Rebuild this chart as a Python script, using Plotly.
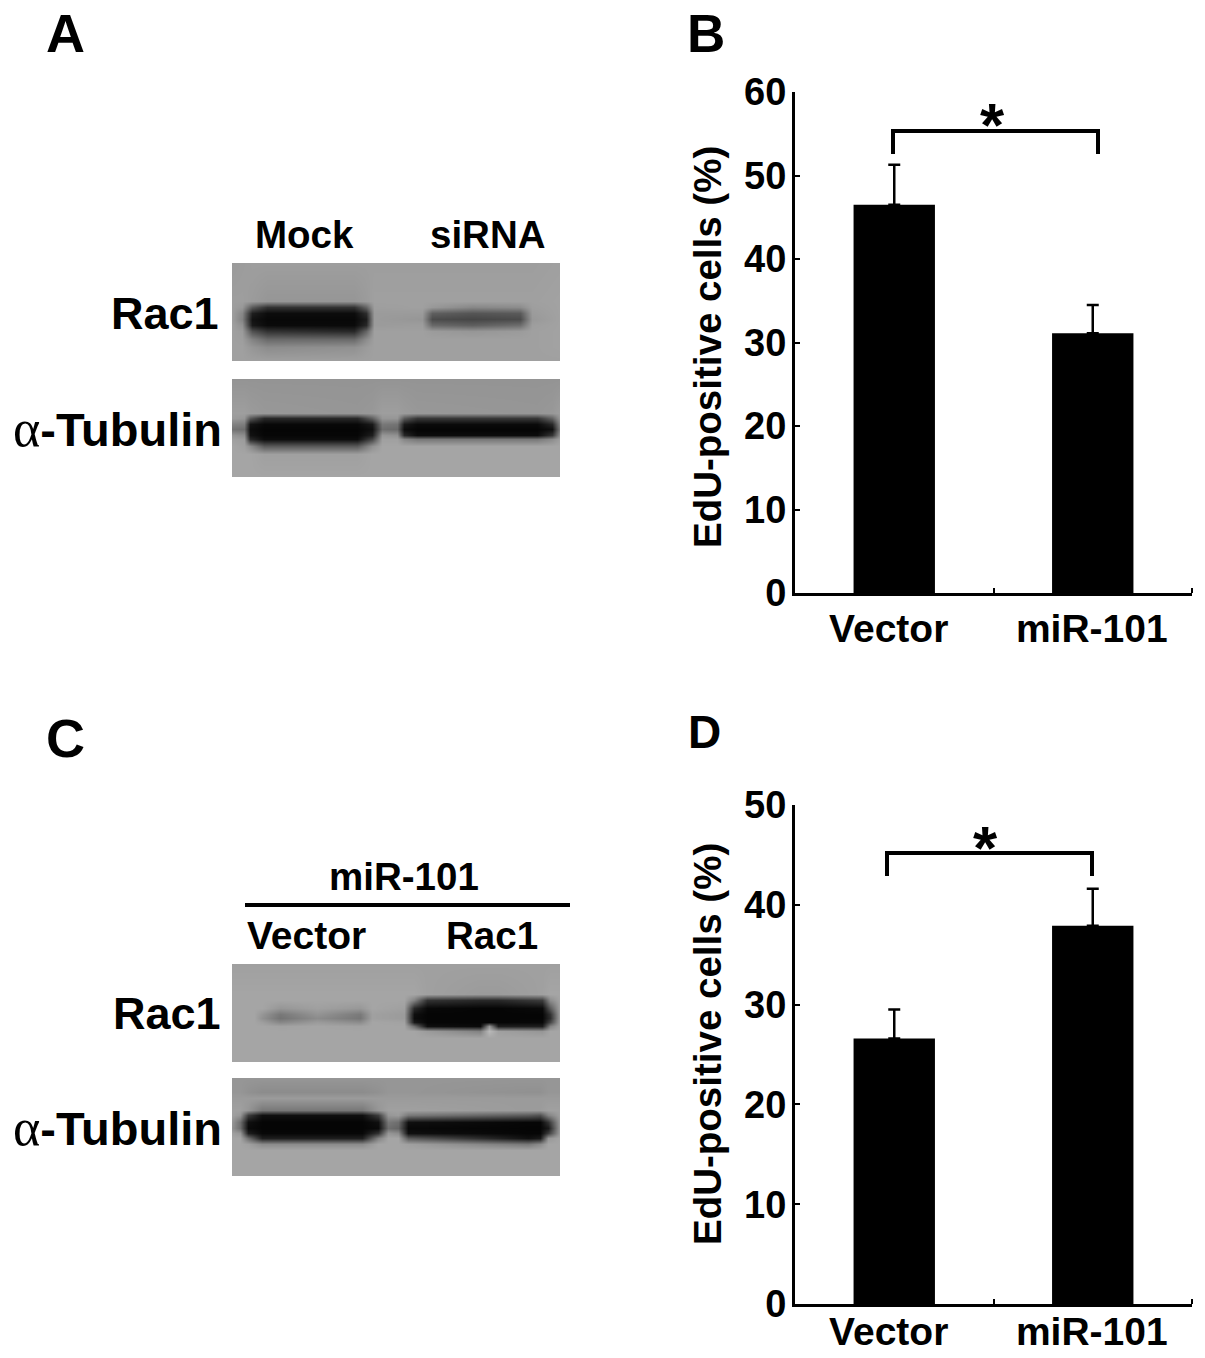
import plotly.graph_objects as go

W, H = 1205, 1358
FONT = "Liberation Sans"

# panels B and D
categories = ["Vector", "miR-101"]
bar_pos = [0, 1]
label_pos = [-0.028, 0.995]
boundaries = [0.5, 1.5]
b_values = [46.5, 31.1]
b_errors = [4.8, 3.4]
b_ticks = [0, 10, 20, 30, 40, 50, 60]
d_values = [26.6, 37.9]
d_errors = [2.9, 3.7]
d_ticks = [0, 10, 20, 30, 40, 50]
y_title = "EdU-positive cells (%)"

# western blots, grey level (0-255) read at a coarse grid of each panel
a1_x = [0, 10, 20, 35, 122, 134, 142, 190, 200, 240, 288, 300, 328]
a1_y = [0, 38, 44, 50, 56, 62, 68, 76, 84, 98]
a1_z = [
    [154, 156, 158, 158, 158, 158, 158, 158, 158, 158, 158, 158, 160],
    [158, 158, 155, 150, 150, 155, 160, 160, 160, 160, 160, 160, 162],
    [158, 152, 90, 50, 50, 100, 158, 160, 152, 135, 140, 158, 162],
    [158, 135, 30, 12, 12, 45, 155, 155, 95, 85, 90, 155, 162],
    [158, 130, 18, 8, 8, 28, 155, 150, 75, 70, 75, 152, 162],
    [160, 145, 25, 10, 10, 40, 155, 157, 105, 95, 110, 158, 162],
    [160, 155, 80, 50, 40, 100, 160, 160, 155, 150, 155, 160, 162],
    [160, 158, 130, 105, 105, 140, 160, 160, 160, 160, 160, 160, 162],
    [160, 160, 150, 140, 145, 155, 160, 160, 160, 160, 160, 160, 162],
    [160, 160, 160, 160, 160, 160, 160, 160, 160, 160, 160, 160, 160],
]

a2_x = [0, 12, 18, 32, 125, 140, 150, 165, 172, 185, 305, 320, 328]
a2_y = [0, 34, 39, 45, 50, 56, 60, 67, 75, 98]
a2_z = [
    [148, 148, 148, 148, 148, 148, 148, 148, 148, 148, 148, 148, 148],
    [158, 158, 155, 152, 150, 152, 158, 158, 155, 152, 150, 152, 158],
    [155, 150, 90, 40, 40, 95, 150, 150, 90, 55, 55, 100, 155],
    [130, 125, 20, 8, 8, 25, 120, 115, 25, 10, 10, 40, 140],
    [115, 110, 12, 5, 5, 15, 110, 105, 12, 5, 5, 15, 130],
    [150, 140, 18, 6, 6, 30, 150, 145, 40, 12, 12, 55, 150],
    [160, 155, 40, 12, 12, 70, 160, 160, 135, 120, 120, 140, 160],
    [165, 160, 140, 90, 90, 145, 165, 165, 165, 165, 165, 165, 165],
    [165, 165, 165, 160, 160, 165, 165, 165, 165, 165, 165, 165, 165],
    [165, 165, 165, 165, 165, 165, 165, 165, 165, 165, 165, 165, 165],
]

c1_x = [0, 22, 30, 48, 85, 128, 140, 172, 182, 195, 248, 257, 266, 310, 318, 328]
c1_y = [0, 30, 36, 44, 50, 54, 58, 62, 67, 74, 98]
c1_z = [
    [160, 160, 160, 160, 160, 160, 160, 160, 160, 160, 160, 160, 160, 160, 160, 160],
    [165, 165, 165, 165, 165, 165, 165, 165, 165, 160, 155, 155, 155, 160, 165, 165],
    [165, 165, 165, 165, 165, 165, 165, 165, 130, 50, 40, 40, 40, 60, 140, 165],
    [165, 165, 165, 150, 160, 152, 165, 160, 40, 8, 5, 5, 5, 10, 90, 165],
    [165, 165, 150, 120, 148, 122, 160, 155, 15, 5, 5, 5, 5, 5, 50, 165],
    [165, 165, 145, 115, 140, 118, 160, 155, 12, 5, 5, 5, 5, 5, 45, 165],
    [165, 165, 158, 135, 155, 140, 165, 162, 25, 6, 6, 6, 6, 8, 70, 165],
    [165, 165, 165, 162, 165, 162, 165, 165, 110, 15, 10, 150, 30, 30, 130, 165],
    [165, 165, 165, 165, 165, 165, 165, 165, 165, 155, 130, 185, 160, 150, 165, 165],
    [165, 165, 165, 165, 165, 165, 165, 165, 165, 165, 165, 165, 165, 165, 165, 165],
    [165, 165, 165, 165, 165, 165, 165, 165, 165, 165, 165, 165, 165, 165, 165, 165],
]

c2_x = [0, 8, 16, 30, 130, 146, 156, 166, 176, 296, 308, 316, 328]
c2_y = [0, 14, 20, 32, 37, 44, 50, 55, 60, 66, 72, 98]
c2_z = [
    [150, 150, 150, 150, 150, 150, 150, 150, 150, 150, 150, 150, 150],
    [150, 150, 145, 140, 140, 145, 150, 150, 150, 145, 145, 150, 150],
    [155, 155, 155, 155, 155, 155, 155, 155, 155, 155, 155, 155, 155],
    [160, 160, 150, 120, 120, 150, 160, 160, 160, 155, 155, 160, 160],
    [160, 150, 60, 15, 15, 60, 150, 155, 120, 90, 80, 130, 160],
    [150, 110, 15, 5, 5, 15, 120, 110, 15, 6, 6, 50, 160],
    [145, 110, 10, 5, 5, 10, 110, 100, 8, 5, 5, 25, 160],
    [160, 150, 30, 7, 7, 50, 150, 140, 15, 6, 6, 60, 160],
    [165, 165, 110, 30, 30, 130, 165, 165, 90, 15, 25, 150, 165],
    [165, 165, 160, 140, 140, 165, 165, 165, 160, 120, 140, 165, 165],
    [165, 165, 165, 165, 165, 165, 165, 165, 165, 165, 165, 165, 165],
    [165, 165, 165, 165, 165, 165, 165, 165, 165, 165, 165, 165, 165],
]


def px_x(x):
    return x / W


def px_y(y):
    return 1 - y / H


def bar_axes(n, top, bottom, ticks, ymax, x_standoff):
    x_name, y_name = ("xaxis", "yaxis") if n == 1 else (f"xaxis{n}", f"yaxis{n}")
    anchor_x, anchor_y = ("x", "y") if n == 1 else (f"x{n}", f"y{n}")
    return {
        x_name: dict(
            domain=[px_x(795), px_x(1192)], anchor=anchor_y, range=[-0.5, 1.5],
            tickvals=label_pos, ticktext=categories, ticks="",
            minor=dict(tickvals=boundaries, ticks="inside", ticklen=5, tickwidth=2,
                       tickcolor="black", showgrid=False),
            showline=True, linewidth=3, linecolor="black", showgrid=False,
            zeroline=False, automargin=False, ticklabelstandoff=x_standoff,
            tickfont=dict(size=39, family=FONT, weight="bold"),
        ),
        y_name: dict(
            domain=[px_y(bottom), px_y(top)], anchor=anchor_x, range=[0, ymax],
            tickvals=ticks, ticks="inside", ticklen=5, tickwidth=2, tickcolor="black",
            showline=True, linewidth=3, linecolor="black", showgrid=False,
            zeroline=False, automargin=False, ticklabelstandoff=-2,
            tickfont=dict(size=38, family=FONT, weight="bold"),
        ),
    }


def blot_axes(n, left, right, top, bottom):
    return {
        f"xaxis{n}": dict(domain=[px_x(left), px_x(right)], anchor=f"y{n}",
                          range=[0, right - left], visible=False),
        f"yaxis{n}": dict(domain=[px_y(bottom), px_y(top)], anchor=f"x{n}",
                          range=[bottom - top, 0], visible=False),
    }


def bar_trace(values, errors, n):
    return go.Bar(
        x=bar_pos, y=values, width=0.41, marker=dict(color="black", line_width=0),
        error_y=dict(type="data", symmetric=False, array=errors, arrayminus=[0, 0],
                     color="black", thickness=2.5, width=6),
        xaxis="x" if n == 1 else f"x{n}", yaxis="y" if n == 1 else f"y{n}",
        showlegend=False,
    )


def blot_trace(x, y, z, n):
    return go.Heatmap(
        x=x, y=y, z=z, zmin=0, zmax=255, zsmooth="best", showscale=False,
        colorscale=[[0, "#000000"], [1, "#ffffff"]], xaxis=f"x{n}", yaxis=f"y{n}",
    )


fig = go.Figure([
    bar_trace(b_values, b_errors, 1),
    bar_trace(d_values, d_errors, 2),
    blot_trace(a1_x, a1_y, a1_z, 3),
    blot_trace(a2_x, a2_y, a2_z, 4),
    blot_trace(c1_x, c1_y, c1_z, 5),
    blot_trace(c2_x, c2_y, c2_z, 6),
])

layout = dict(
    width=W, height=H, margin=dict(l=0, r=0, t=0, b=0), autosize=False,
    paper_bgcolor="white", plot_bgcolor="white", showlegend=False,
    font=dict(family=FONT, color="black"),
)
layout.update(bar_axes(1, 92, 593, b_ticks, 60, -1))
layout.update(bar_axes(2, 805, 1304, d_ticks, 50, -9))
layout.update(blot_axes(3, 232, 560, 263, 361))
layout.update(blot_axes(4, 232, 560, 379, 477))
layout.update(blot_axes(5, 232, 560, 964, 1062))
layout.update(blot_axes(6, 232, 560, 1078, 1176))
fig.update_layout(**layout)


def label(text, x, y, size, anchor="center", angle=0):
    fig.add_annotation(
        text=text, x=px_x(x), y=px_y(y), xref="paper", yref="paper",
        xanchor=anchor, yanchor="middle", showarrow=False, textangle=angle,
        font=dict(size=size, family=FONT, weight="bold"),
    )


alpha_tub = ('<span style="font-family:\'Liberation Serif\';font-weight:normal;'
             'font-size:52px">α</span>-Tubulin')

label("A", 65, 33, 54)
label("B", 706, 33, 53)
label("C", 65, 738, 54)
label("D", 704, 732, 46)
label("Mock", 304, 234, 38.5)
label("siRNA", 488, 234, 38.5)
label("Rac1", 221, 313, 45, "right")
label(alpha_tub, 224, 428, 47, "right")
label("miR-101", 404, 876, 38.5)
label("Vector", 306, 935, 39)
label("Rac1", 492, 935, 38.5)
label("Rac1", 223, 1013, 45, "right")
label(alpha_tub, 224, 1127, 47, "right")
label("*", 992, 124, 62)
label("*", 985, 847, 62)
label(y_title, 707, 347, 38.5, angle=-90)
label(y_title, 707, 1044, 38.5, angle=-90)


def line_shape(points, width):
    path = "M " + " L ".join(f"{px_x(x)} {px_y(y)}" for x, y in points)
    fig.add_shape(type="path", path=path, xref="paper", yref="paper",
                  line=dict(color="black", width=width))


line_shape([(245, 905), (570, 905)], 4)
line_shape([(893, 154), (893, 131), (1098, 131), (1098, 154)], 4)
line_shape([(887, 876), (887, 853), (1092, 853), (1092, 876)], 4)

# plotly keeps the browser's default body margin otherwise
fig.write_html("out.html", config={"displayModeBar": False},
               post_script="document.body.style.margin='0';")
